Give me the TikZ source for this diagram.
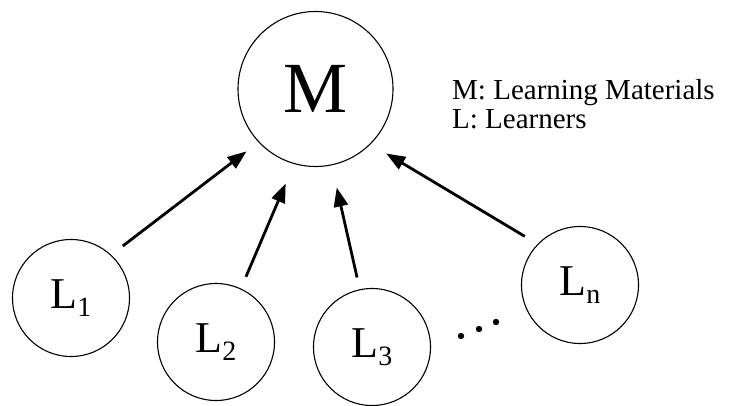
\documentclass[tikz,border=0pt]{standalone}
\usepackage{fontspec}
\setmainfont{Liberation Serif}
\usetikzlibrary{arrows.meta,shapes.geometric}
\newcommand\Lsub[1]{L\raisebox{-8pt}{\fontsize{28}{32}\selectfont #1}}
\begin{document}
\begin{tikzpicture}[x=1pt,y=-1pt,
  mnode/.style={draw,circle,line width=1.1pt,minimum size=155pt,inner sep=0pt,font=\fontsize{72}{84}\selectfont},
  lnode/.style={draw,circle,line width=1.1pt,minimum size=117pt,inner sep=0pt,font=\fontsize{44}{50}\selectfont},
  arr/.style={line width=2.8pt,-{Triangle[length=19pt,width=14pt]}},
  legend/.style={anchor=base west,inner sep=0pt,font=\fontsize{29}{34}\selectfont},
  dotmark/.style={fill=black}]
\useasboundingbox (0,0) rectangle (751,406);
\node[mnode] (M) at (315.5,89) {M};
\node[legend] (leg1) at (452,100) {M: Learning Materials};
\node[legend] (leg2) at (452,129) {L: Learners};
\node[lnode] (L1) at (71,298) {\Lsub{1}};
\node[lnode] (L2) at (216,342) {\Lsub{2}};
\node[lnode] (L3) at (372,347) {\Lsub{3}};
\node[lnode] (Ln) at (580,285) {\Lsub{n}};
\draw[arr, shorten <=14.5pt, shorten >=15pt] (L1.47.6) -- (M.223.1);
\draw[arr, shorten <=12.7pt, shorten >=21.2pt] (L2.65.9) -- (M.254.3);
\draw[arr, shorten <=12.1pt, shorten >=22.8pt] (L3.102.2) -- (M.282.4);
\draw[arr, shorten <=14.8pt, shorten >=18.1pt] (Ln.136.4) -- (M.315.2);
\fill[dotmark] (461,336) circle (3.2pt);
\fill[dotmark] (479,329) circle (3.2pt);
\fill[dotmark] (496,322) circle (3.2pt);
\end{tikzpicture}
\end{document}
